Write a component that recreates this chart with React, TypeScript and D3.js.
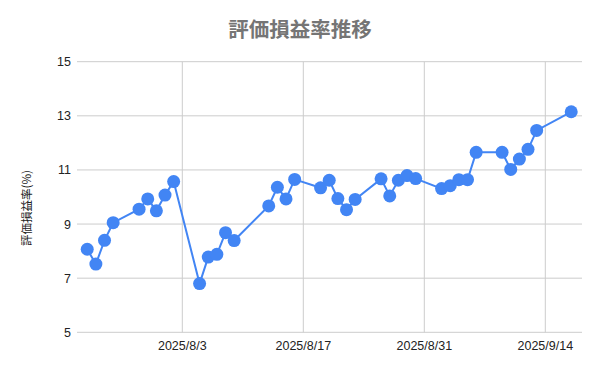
import React from "react";
import * as d3 from "d3";

const dates: string[] = [
  "2025-07-23","2025-07-24","2025-07-25","2025-07-26","2025-07-29","2025-07-30","2025-07-31","2025-08-01","2025-08-02",
  "2025-08-05","2025-08-06","2025-08-07","2025-08-08","2025-08-09","2025-08-13","2025-08-14","2025-08-15","2025-08-16",
  "2025-08-19","2025-08-20","2025-08-21","2025-08-22","2025-08-23","2025-08-26","2025-08-27","2025-08-28","2025-08-29","2025-08-30",
  "2025-09-02","2025-09-03","2025-09-04","2025-09-05","2025-09-06","2025-09-09","2025-09-10","2025-09-11","2025-09-12","2025-09-13","2025-09-17",
];
const values: number[] = [
  8.07, 7.52, 8.40, 9.05, 9.55, 9.93, 9.49, 10.07, 10.57,
  6.80, 7.78, 7.88, 8.68, 8.39, 9.67, 10.36, 9.93, 10.65,
  10.34, 10.62, 9.94, 9.53, 9.91, 10.67, 10.04, 10.62, 10.79, 10.68,
  10.31, 10.42, 10.64, 10.64, 11.65, 11.65, 11.02, 11.40, 11.76, 12.46, 13.15,
];
const yTicks: number[] = [5, 7, 9, 11, 13, 15];
const xTickDates: string[] = ["2025-08-03", "2025-08-17", "2025-08-31", "2025-09-14"];
const xTickLabels: string[] = ["2025/8/3", "2025/8/17", "2025/8/31", "2025/9/14"];
const title = "評価損益率推移";
const yTitle = "評価損益率(%)";

const W = 600, H = 371;
const left = 77, right = 582, top = 61.7, bottom = 332.3;

const parse = (s: string) => new Date(s + "T00:00:00");

export default function App() {
  const t0 = parse(xTickDates[0]);
  const t1 = parse(xTickDates[xTickDates.length - 1]);
  const x = d3.scaleTime().domain([t0, t1]).range([182.3, 545.3]);
  const y = d3.scaleLinear().domain([5, 15]).range([bottom, top]);
  const pts = dates.map((d, i) => ({ d: parse(d), v: values[i] }));
  const line = d3.line<{ d: Date; v: number }>().x(p => x(p.d)).y(p => y(p.v));
  const font = "Arial, 'Liberation Sans', sans-serif";
  return (
    <svg width={W} height={H} style={{ position: "absolute", left: 0, top: 0, background: "#fff" }}>
      <rect x={0} y={0} width={W} height={H} fill="#fff" />
      <text x={300} y={37} textAnchor="middle" fontSize={20.5} fontWeight="bold" fill="#757575"
        fontFamily="'Noto Sans CJK JP', sans-serif">{title}</text>
      {yTicks.map(t => (
        <g key={t}>
          <line x1={left} x2={right} y1={y(t)} y2={y(t)} stroke="#cccccc" strokeWidth={1} />
          <text x={71} y={y(t) + 4.5} textAnchor="end" fontSize={12.5} fill="#222" fontFamily={font}>{t}</text>
        </g>
      ))}
      {xTickDates.map((d, i) => (
        <g key={d}>
          <line x1={x(parse(d))} x2={x(parse(d))} y1={top} y2={bottom} stroke="#cccccc" strokeWidth={1} />
          <text x={x(parse(d))} y={349.5} textAnchor="middle" fontSize={12.5} fill="#222" fontFamily={font}>{xTickLabels[i]}</text>
        </g>
      ))}
      <text transform={`translate(31,208) rotate(-90)`} textAnchor="middle" fontSize={11.5} fill="#222"
        fontFamily="'Noto Sans CJK JP', sans-serif">{yTitle}</text>
      <path d={line(pts) || ""} fill="none" stroke="#4285F4" strokeWidth={2} />
      {pts.map((p, i) => (
        <circle key={i} cx={x(p.d)} cy={y(p.v)} r={6.5} fill="#4285F4" />
      ))}
    </svg>
  );
}
